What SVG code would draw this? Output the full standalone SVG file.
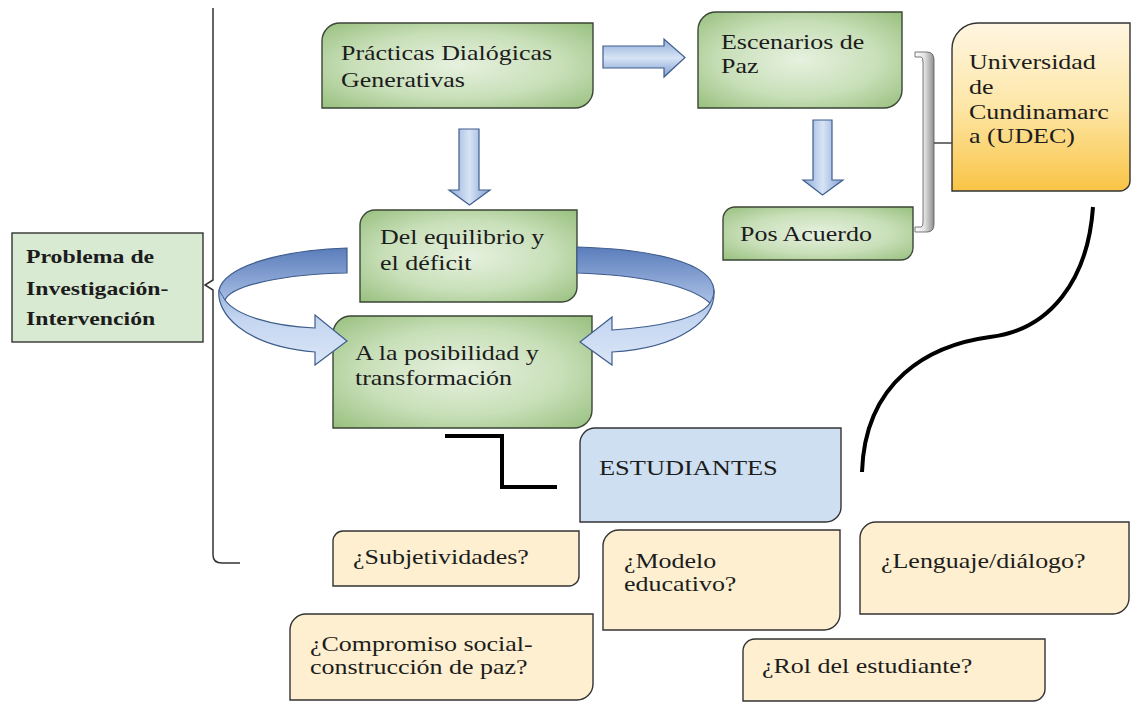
<svg xmlns="http://www.w3.org/2000/svg" width="1131" height="702" viewBox="0 0 1131 702">
<defs>
<radialGradient id="gGreen" cx="0.5" cy="0.5" r="0.7">
<stop offset="0" stop-color="#e6f1df"/>
<stop offset="0.55" stop-color="#c8dfb8"/>
<stop offset="1" stop-color="#98c07f"/>
</radialGradient>
<linearGradient id="gUdec" x1="0" y1="0" x2="0" y2="1">
<stop offset="0" stop-color="#fff6e2"/>
<stop offset="0.5" stop-color="#fde6a6"/>
<stop offset="1" stop-color="#f9c445"/>
</linearGradient>
<linearGradient id="gArrH" x1="0" y1="0" x2="0" y2="1">
<stop offset="0" stop-color="#8eabd8"/>
<stop offset="0.5" stop-color="#d7e4f5"/>
<stop offset="1" stop-color="#7d9dd0"/>
</linearGradient>
<linearGradient id="gArrV" x1="0" y1="0" x2="1" y2="0">
<stop offset="0" stop-color="#8eabd8"/>
<stop offset="0.5" stop-color="#d7e4f5"/>
<stop offset="1" stop-color="#7d9dd0"/>
</linearGradient>
<linearGradient id="gCurve" x1="0" y1="0" x2="0" y2="1">
<stop offset="0" stop-color="#5a7dbb"/>
<stop offset="0.4" stop-color="#9fb6df"/>
<stop offset="0.6" stop-color="#c3d5f0"/>
<stop offset="1" stop-color="#dbe6f7"/>
</linearGradient>
<linearGradient id="gBrk" x1="0" y1="0" x2="1" y2="0">
<stop offset="0" stop-color="#ffffff"/>
<stop offset="0.5" stop-color="#e2e2e2"/>
<stop offset="1" stop-color="#8f8f8f"/>
</linearGradient>
<style>
.gbox{fill:url(#gGreen);stroke:#3b4636;stroke-width:1.4}
.ybox{fill:#fdefd0;stroke:#333;stroke-width:1.4}
.t{font-family:"Liberation Serif","Times New Roman",serif;font-size:22px;fill:#1c1c1c}
.tb{font-family:"Liberation Serif","Times New Roman",serif;font-size:19px;font-weight:bold;fill:#1c1c1c}
.barr{stroke:#3f5d8c;stroke-width:1.2}
.blk{fill:none;stroke:#000;stroke-width:4}
</style>
</defs>
<rect width="1131" height="702" fill="#ffffff"/>

<g id="problema">
<rect x="12" y="233" width="191" height="109" fill="#d9ead3" stroke="#333" stroke-width="1.4"/>
<text class="tb" transform="translate(26,263) scale(1.25,1)">Problema de</text>
<text class="tb" transform="translate(26,295) scale(1.25,1)">Investigación-</text>
<text class="tb" transform="translate(26,325) scale(1.25,1)">Intervención</text>
</g>

<g id="practicas">
<path class="gbox" d="M340,23 H593 V90 A18,18 0 0 1 575,108 H322 V41 A18,18 0 0 1 340,23 Z"/>
<text class="t" transform="translate(341,60) scale(1.18,1)">Prácticas Dialógicas</text>
<text class="t" transform="translate(341,87) scale(1.18,1)">Generativas</text>
</g>

<g id="escenarios">
<path class="gbox" d="M716,12 H902 V90 A18,18 0 0 1 884,108 H698 V30 A18,18 0 0 1 716,12 Z"/>
<text class="t" transform="translate(721,49) scale(1.18,1)">Escenarios de</text>
<text class="t" transform="translate(721,73) scale(1.18,1)">Paz</text>
</g>

<g id="equilibrio">
<path class="gbox" d="M375,210 H577 V287 A15,15 0 0 1 562,302 H360 V225 A15,15 0 0 1 375,210 Z"/>
<text class="t" transform="translate(380,244) scale(1.18,1)">Del equilibrio y</text>
<text class="t" transform="translate(380,270) scale(1.18,1)">el déficit</text>
</g>

<g id="posibilidad">
<path class="gbox" d="M351,316 H592 V410 A18,18 0 0 1 574,428 H333 V334 A18,18 0 0 1 351,316 Z"/>
<text class="t" transform="translate(355,360) scale(1.18,1)">A la posibilidad y</text>
<text class="t" transform="translate(355,385) scale(1.18,1)">transformación</text>
</g>

<g id="posacuerdo">
<path class="gbox" d="M735,207 H913 V248 A12,12 0 0 1 901,260 H723 V219 A12,12 0 0 1 735,207 Z"/>
<text class="t" transform="translate(740,241) scale(1.18,1)">Pos Acuerdo</text>
</g>

<g id="udec">
<path d="M978,23 H1130 V181 A10,10 0 0 1 1120,191 H952 V49 A26,26 0 0 1 978,23 Z" fill="url(#gUdec)" stroke="#333" stroke-width="1.4"/>
<text class="t" transform="translate(969,69) scale(1.18,1)">Universidad</text>
<text class="t" transform="translate(969,94) scale(1.18,1)">de</text>
<text class="t" transform="translate(969,119) scale(1.18,1)">Cundinamarc</text>
<text class="t" transform="translate(969,143) scale(1.18,1)">a (UDEC)</text>
</g>

<g id="estudiantes">
<path d="M595,428 H841 V507 A15,15 0 0 1 826,522 H580 V443 A15,15 0 0 1 595,428 Z" fill="#cedff1" stroke="#333" stroke-width="1.4"/>
<text class="t" transform="translate(599,475) scale(1.2,1)">ESTUDIANTES</text>
</g>

<g id="subjetividades">
<path class="ybox" d="M343,531 H579 V576 A10,10 0 0 1 569,586 H333 V541 A10,10 0 0 1 343,531 Z"/>
<text class="t" transform="translate(353,564) scale(1.18,1)">¿Subjetividades?</text>
</g>

<g id="modelo">
<path class="ybox" d="M619,530 H840 V614 A16,16 0 0 1 824,630 H603 V546 A16,16 0 0 1 619,530 Z"/>
<text class="t" transform="translate(624,568) scale(1.18,1)">¿Modelo</text>
<text class="t" transform="translate(624,591) scale(1.18,1)">educativo?</text>
</g>

<g id="lenguaje">
<path class="ybox" d="M876,522 H1129 V598 A16,16 0 0 1 1113,614 H860 V538 A16,16 0 0 1 876,522 Z"/>
<text class="t" transform="translate(881,568) scale(1.18,1)">¿Lenguaje/diálogo?</text>
</g>

<g id="compromiso">
<path class="ybox" d="M306,614 H593 V684 A16,16 0 0 1 577,700 H290 V630 A16,16 0 0 1 306,614 Z"/>
<text class="t" transform="translate(310,651) scale(1.18,1)">¿Compromiso  social-</text>
<text class="t" transform="translate(310,674) scale(1.18,1)">construcción de paz?</text>
</g>

<g id="rol">
<path class="ybox" d="M755,639 H1045 V689 A12,12 0 0 1 1033,701 H743 V651 A12,12 0 0 1 755,639 Z"/>
<text class="t" transform="translate(762,673) scale(1.18,1)">¿Rol del estudiante?</text>
</g>

<g id="connectors">
<path d="M213,8 V280 L205,285 L213,290 V555 Q213,563 222,563 H240" fill="none" stroke="#333" stroke-width="1.5"/>
<path class="barr" d="M603,46 H664 V39 L685,57.5 L664,77 V68 H603 Z" fill="url(#gArrH)"/>
<path class="barr" d="M459,129 H479 V190 H490 L469.5,205 L449,190 H459 Z" fill="url(#gArrV)"/>
<path class="barr" d="M813,120 H832 V180 H843 L822.5,195 L803,180 H813 Z" fill="url(#gArrV)"/>
<path class="barr" d="M347,248 C285,250 225,265 219,290 C216,312 242,346 315,352 L315,365 L347,341 L315,315 L315,328 C270,326 236,315 225,300 C232,285 285,274 347,273 Z" fill="url(#gCurve)"/>
<path d="M225,300 C222,295 220,292 219,290" fill="none" stroke="#3f5d8c" stroke-width="1"/>
<path class="barr" d="M577,247 C650,249 712,262 714,290 C716,320 680,348 612,352 L612,365 L580,342 L612,317 L612,330 C660,327 700,318 710,303 C690,285 640,275 577,273 Z" fill="url(#gCurve)"/>
<path d="M710,303 C713,298 714,294 714,290" fill="none" stroke="#3f5d8c" stroke-width="1"/>
<path d="M915,52 H927 Q934,52 934,60 V224 Q934,232 927,232 H915 V227 H921 Q923,227 923,222 V62 Q923,57 921,57 H915 Z" fill="url(#gBrk)" stroke="#555" stroke-width="0.8"/>
<line x1="934" y1="143" x2="952" y2="143" stroke="#444" stroke-width="1.5"/>
<path class="blk" d="M445,436 H502 V487 H557"/>
<path class="blk" d="M1093,207 C1088,280 1050,330 990,337 C930,345 865,380 862,472"/>
</g>
</svg>
